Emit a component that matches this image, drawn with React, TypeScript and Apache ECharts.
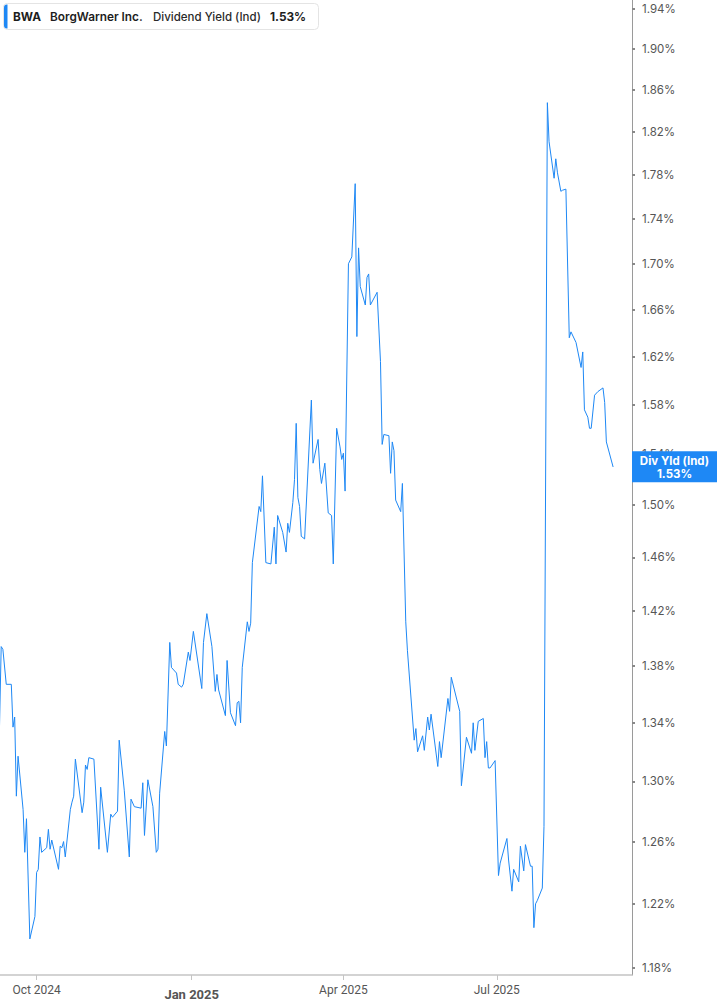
import React, { useEffect, useRef } from 'react';
import * as echarts from 'echarts';

const dates = [
  '2024-09-09', '2024-09-10', '2024-09-11', '2024-09-13', '2024-09-16', '2024-09-17', '2024-09-18', '2024-09-19',
  '2024-09-20', '2024-09-23', '2024-09-24', '2024-09-25', '2024-09-27', '2024-09-30', '2024-10-01', '2024-10-02',
  '2024-10-03', '2024-10-04', '2024-10-07', '2024-10-08', '2024-10-09', '2024-10-10', '2024-10-14', '2024-10-15',
  '2024-10-16', '2024-10-17', '2024-10-18', '2024-10-21', '2024-10-22', '2024-10-23', '2024-10-24', '2024-10-28',
  '2024-10-29', '2024-10-30', '2024-10-31', '2024-11-01', '2024-11-04', '2024-11-07', '2024-11-08', '2024-11-12',
  '2024-11-14', '2024-11-15', '2024-11-18', '2024-11-19', '2024-11-22', '2024-11-25', '2024-11-26', '2024-11-28',
  '2024-12-02', '2024-12-03', '2024-12-04', '2024-12-06', '2024-12-09', '2024-12-11', '2024-12-12', '2024-12-13',
  '2024-12-16', '2024-12-17', '2024-12-19', '2024-12-20', '2024-12-23', '2024-12-24', '2024-12-26', '2024-12-27',
  '2024-12-30', '2024-12-31', '2025-01-02', '2025-01-07', '2025-01-08', '2025-01-10', '2025-01-13', '2025-01-15',
  '2025-01-16', '2025-01-17', '2025-01-21', '2025-01-22', '2025-01-24', '2025-01-27', '2025-01-28', '2025-01-29',
  '2025-01-30', '2025-01-31', '2025-02-03', '2025-02-04', '2025-02-05', '2025-02-06', '2025-02-10', '2025-02-11',
  '2025-02-12', '2025-02-14', '2025-02-17', '2025-02-19', '2025-02-20', '2025-02-21', '2025-02-24', '2025-02-26',
  '2025-02-27', '2025-02-28', '2025-03-02', '2025-03-03', '2025-03-04', '2025-03-05', '2025-03-06', '2025-03-07',
  '2025-03-09', '2025-03-13', '2025-03-14', '2025-03-17', '2025-03-18', '2025-03-19', '2025-03-21', '2025-03-23',
  '2025-03-25', '2025-03-26', '2025-03-28', '2025-03-30', '2025-03-31', '2025-04-01', '2025-04-02', '2025-04-04',
  '2025-04-06', '2025-04-08', '2025-04-09', '2025-04-10', '2025-04-11', '2025-04-14', '2025-04-15', '2025-04-16',
  '2025-04-17', '2025-04-21', '2025-04-23', '2025-04-24', '2025-04-25', '2025-04-28', '2025-04-29', '2025-04-30',
  '2025-05-01', '2025-05-02', '2025-05-05', '2025-05-06', '2025-05-08', '2025-05-09', '2025-05-13', '2025-05-14',
  '2025-05-15', '2025-05-18', '2025-05-19', '2025-05-21', '2025-05-22', '2025-05-23', '2025-05-27', '2025-05-28',
  '2025-05-29', '2025-06-02', '2025-06-03', '2025-06-04', '2025-06-09', '2025-06-10', '2025-06-13', '2025-06-16',
  '2025-06-17', '2025-06-18', '2025-06-20', '2025-06-23', '2025-06-24', '2025-06-25', '2025-06-26', '2025-06-27',
  '2025-06-30', '2025-07-02', '2025-07-03', '2025-07-07', '2025-07-08', '2025-07-10', '2025-07-11', '2025-07-14',
  '2025-07-15', '2025-07-17', '2025-07-18', '2025-07-21', '2025-07-22', '2025-07-23', '2025-07-24', '2025-07-25',
  '2025-07-28', '2025-07-29', '2025-07-31', '2025-08-01', '2025-08-04', '2025-08-05', '2025-08-06', '2025-08-08',
  '2025-08-09', '2025-08-11', '2025-08-13', '2025-08-14', '2025-08-17', '2025-08-20', '2025-08-21', '2025-08-22',
  '2025-08-24', '2025-08-25', '2025-08-26', '2025-08-28', '2025-08-30', '2025-09-02', '2025-09-03', '2025-09-04',
  '2025-09-08',
];

// dividend yield, %
const yields = [
  1.338, 1.394, 1.392, 1.367, 1.367, 1.337, 1.344, 1.290,
  1.317, 1.281, 1.253, 1.275, 1.198, 1.212, 1.240, 1.242,
  1.263, 1.253, 1.256, 1.268, 1.255, 1.261, 1.242, 1.257,
  1.256, 1.260, 1.250, 1.281, 1.286, 1.290, 1.315, 1.279,
  1.286, 1.311, 1.308, 1.316, 1.315, 1.255, 1.296, 1.253,
  1.278, 1.276, 1.280, 1.328, 1.294, 1.250, 1.288, 1.283,
  1.282, 1.299, 1.264, 1.301, 1.283, 1.253, 1.255, 1.292,
  1.334, 1.324, 1.397, 1.379, 1.375, 1.367, 1.365, 1.367,
  1.390, 1.384, 1.405, 1.364, 1.397, 1.418, 1.394, 1.362,
  1.374, 1.363, 1.345, 1.384, 1.347, 1.338, 1.354, 1.355,
  1.340, 1.379, 1.412, 1.405, 1.411, 1.456, 1.499, 1.495,
  1.523, 1.456, 1.455, 1.483, 1.455, 1.492, 1.479, 1.464,
  1.486, 1.479, 1.502, 1.520, 1.565, 1.506, 1.499, 1.476,
  1.474, 1.584, 1.533, 1.552, 1.528, 1.517, 1.533, 1.494,
  1.492, 1.455, 1.561, 1.546, 1.536, 1.541, 1.511, 1.700,
  1.706, 1.772, 1.637, 1.714, 1.680, 1.664, 1.688, 1.691,
  1.664, 1.675, 1.616, 1.548, 1.556, 1.555, 1.525, 1.550,
  1.543, 1.504, 1.495, 1.517, 1.412, 1.391, 1.328, 1.336,
  1.320, 1.331, 1.321, 1.344, 1.335, 1.346, 1.310, 1.327,
  1.316, 1.357, 1.348, 1.372, 1.348, 1.297, 1.330, 1.319,
  1.340, 1.321, 1.341, 1.343, 1.316, 1.327, 1.309, 1.309,
  1.314, 1.238, 1.246, 1.262, 1.248, 1.228, 1.242, 1.234,
  1.257, 1.241, 1.258, 1.244, 1.244, 1.205, 1.220, 1.222,
  1.230, 1.270, 1.848, 1.811, 1.777, 1.795, 1.782, 1.765,
  1.766, 1.767, 1.636, 1.641, 1.632, 1.611, 1.624, 1.576,
  1.570, 1.561, 1.561, 1.588, 1.591, 1.594, 1.582, 1.550,
  1.530,
];

const yTicks = [
  1.18, 1.22, 1.26, 1.30, 1.34, 1.38, 1.42, 1.46, 1.50, 1.54,
  1.58, 1.62, 1.66, 1.70, 1.74, 1.78, 1.82, 1.86, 1.90, 1.94,
];
const xTickDates = ['2024-10-01', '2025-01-01', '2025-04-01', '2025-07-01'];
const xTickLabels = ['Oct 2024', 'Jan 2025', 'Apr 2025', 'Jul 2025'];
const yearStartLabel = 'Jan 2025';
const xStart = '2024-09-09T07:00:00';
const xEnd = '2025-09-19T05:00:00';

const ticker = 'BWA';
const company = 'BorgWarner Inc.';
const metric = 'Dividend Yield (Ind)';
const shortMetric = 'Div Yld (Ind)';

const BLUE = '#1e88f5';
const FONT = 'Inter, Roboto, sans-serif';

const toTime = (d: string) => new Date(d.length > 10 ? d : d + 'T00:00:00').getTime();

export default function App() {
  const chartRef = useRef<HTMLDivElement>(null);

  useEffect(() => {
    const chart = echarts.init(chartRef.current!, null, { renderer: 'svg' });

    // dates as timestamps on a value axis; the y axis is logarithmic, so plot ln(value)
    const seriesData = dates.map((d, i) => [toTime(d), Math.log(yields[i])]);
    const last = yields[yields.length - 1];
    const lastText = last.toFixed(2) + '%';
    const tickTimes = xTickDates.map(toTime);

    chart.setOption({
      animation: false,
      grid: { left: 0, right: 85, top: 0, bottom: 30, containLabel: false },
      xAxis: {
        type: 'value',
        min: toTime(xStart),
        max: toTime(xEnd),
        splitLine: { show: false },
        axisLine: { onZero: false, lineStyle: { color: '#c4c4c4', width: 1.5 } },
        axisTick: {
          customValues: tickTimes,
          length: 5,
          lineStyle: { color: '#c4c4c4' },
        },
        axisLabel: {
          customValues: tickTimes,
          margin: 9,
          color: '#555',
          fontSize: 12,
          fontFamily: 'Roboto, sans-serif',
          formatter: (v: number) => {
            let best = 0;
            tickTimes.forEach((t, i) => {
              if (Math.abs(t - v) < Math.abs(tickTimes[best] - v)) best = i;
            });
            const label = xTickLabels[best];
            return label === yearStartLabel ? '{b|' + label + '}' : label;
          },
          rich: {
            b: { fontWeight: 'bold', fontSize: 13, color: '#555', fontFamily: 'Roboto, sans-serif', padding: [4, 0, 0, 0] },
          },
        },
      },
      yAxis: {
        type: 'value',
        position: 'right',
        min: Math.log(1.1758),
        max: Math.log(1.949),
        splitLine: { show: false },
        axisLine: { show: true, lineStyle: { color: '#9a9a9a' } },
        axisTick: {
          show: true,
          customValues: yTicks.map(Math.log),
          length: 3,
          lineStyle: { color: '#888', width: 2 },
        },
        axisLabel: {
          customValues: yTicks.map(Math.log),
          margin: 10,
          color: '#555',
          fontSize: 11.5,
          fontFamily: FONT,
          formatter: (v: number) => Math.exp(v).toFixed(2) + '%',
        },
      },
      series: [
        {
          type: 'line',
          data: seriesData,
          showSymbol: false,
          clip: false,
          z: 3,
          lineStyle: { color: BLUE, width: 1 },
          markLine: {
            silent: true,
            symbol: 'none',
            lineStyle: { width: 0, color: 'transparent' },
            data: [{ yAxis: Math.log(last) }],
            label: {
              show: true,
              position: 'end',
              distance: 0,
              offset: [0, 9],
              opacity: 1,
              formatter: '{a|' + shortMetric + '}\n{a|' + lastText + '}',
              backgroundColor: BLUE,
              padding: [3, 6, 2, 6],
              rich: {
                a: {
                  width: 73,
                  align: 'center',
                  color: '#fff',
                  fontWeight: 'bold',
                  fontSize: 11.5,
                  lineHeight: 13,
                  fontFamily: FONT,
                },
              },
            },
          },
        },
      ],
      graphic: [
        {
          type: 'rect',
          shape: { x: 3.5, y: 3.5, width: 315, height: 26, r: 4 },
          style: { fill: '#fff', stroke: '#e4e4e4', lineWidth: 1 },
          z: 10,
        },
        {
          type: 'rect',
          shape: { x: 4, y: 4.5, width: 3.5, height: 24, r: [3, 0, 0, 3] },
          style: { fill: BLUE },
          z: 11,
        },
        {
          type: 'text',
          x: 13,
          y: 16.5,
          z: 11,
          style: { text: ticker, fill: '#1d1d1d', font: 'bold 11.8px ' + FONT, verticalAlign: 'middle' },
        },
        {
          type: 'text',
          x: 50,
          y: 16.5,
          z: 11,
          style: { text: company, fill: '#1d1d1d', font: '600 11.8px ' + FONT, verticalAlign: 'middle' },
        },
        {
          type: 'text',
          x: 153,
          y: 16.5,
          z: 11,
          style: { text: metric, fill: '#2a2a2a', font: '500 11.5px ' + FONT, verticalAlign: 'middle' },
        },
        {
          type: 'text',
          x: 270,
          y: 16.5,
          z: 11,
          style: { text: lastText, fill: '#1d1d1d', font: 'bold 11.8px ' + FONT, verticalAlign: 'middle' },
        },
      ],
    });

    return () => {
      chart.dispose();
    };
  }, []);

  return (
    <div
      ref={chartRef}
      style={{ position: 'fixed', left: 0, top: 0, width: 717, height: 1005, background: '#fff' }}
    />
  );
}
